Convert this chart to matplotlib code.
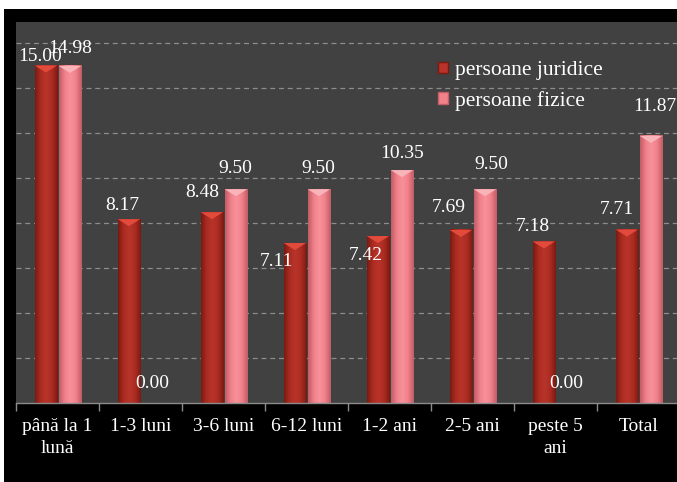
import matplotlib
matplotlib.use("Agg")
import matplotlib.pyplot as plt
import numpy as np
from matplotlib.patches import Rectangle, Polygon, Patch
from matplotlib.colors import LinearSegmentedColormap

categories = ["până la 1\nlună", "1-3 luni", "3-6 luni", "6-12 luni", "1-2 ani", "2-5 ani", "peste 5\nani", "Total"]
juridice = [15.00, 8.17, 8.48, 7.11, 7.42, 7.69, 7.18, 7.71]
fizice = [14.98, 0.00, 9.50, 9.50, 10.35, 9.50, 0.00, 11.87]
series_names = ["persoane juridice", "persoane fizice"]

# label offsets in pixels (dx, dy) relative to bar top centre
off_j = [(-6, 9.5), (-7, 14), (-10, 20), (-18, -18), (-12, -19), (-12, 22), (-11, 15), (-10, 20)]
off_f = [(0, 17), (-1, 20), (-1, 21), (-1, 21), (0, 17), (6, 25), (-2, 20), (4, 29)]

FONT = ["Liberation Serif", "DejaVu Serif"]
plt.rcParams["font.family"] = FONT

W, H, DPI = 677, 482, 100
fig = plt.figure(figsize=(W / DPI, H / DPI), dpi=DPI, facecolor="white")
fig.patches.append(Rectangle((4 / W, 0), 1, 1 - 9 / H, transform=fig.transFigure,
                             facecolor="black", edgecolor="none", zorder=-5))

left, right, top_px, base_px = 16, 677, 22, 403
ax = fig.add_axes([left / W, (H - base_px) / H, (right - left) / W, (base_px - top_px) / H])
ax.set_zorder(1)
ax.set_facecolor("#414141")
px_per_cat = 83.0
XLIM = (-0.5, -0.5 + (right - left) / px_per_cat)
px_per_unit = 22.5
YLIM = (0, (base_px - top_px) / px_per_unit)

ax.set_yticks(np.arange(2, 17, 2))
ax.yaxis.grid(True, color="#8c8c8c", linestyle=(0, (4, 3)), linewidth=0.9)
ax.set_axisbelow(True)
ax.tick_params(axis="y", left=False, labelleft=False)
for s in ["top", "right", "left"]:
    ax.spines[s].set_visible(False)
ax.spines["bottom"].set_color("#8c8c8c")
ax.spines["bottom"].set_linewidth(1.0)

x = np.arange(len(categories))
ax.set_xticks(np.arange(len(categories) + 1) - 0.5, minor=False)
ax.set_xticklabels([])
ax.tick_params(axis="x", which="major", direction="out", length=6, color="#8c8c8c", width=1)
ax.set_xticks(x, minor=True)
ax.set_xticklabels(categories, minor=True, color="white", fontsize=14, linespacing=1.35)
ax.tick_params(axis="x", which="minor", length=0, pad=11)

bw = 0.27
bars_j = ax.bar(x - 0.14, juridice, width=bw, color="#A82A20", zorder=2)
bars_f = ax.bar(x + 0.15, fizice, width=bw, color="#F2828A", zorder=2)

def shade(bars, c_edge, c_mid, c_hi, c_top):
    cmap = LinearSegmentedColormap.from_list("c", [c_edge, c_mid, c_hi, c_mid, c_edge])
    grad = np.linspace(0, 1, 64).reshape(1, -1)
    for b in bars:
        h = b.get_height()
        if h <= 0:
            continue
        x0, w = b.get_x(), b.get_width()
        ax.imshow(grad, cmap=cmap, aspect="auto", extent=(x0, x0 + w, 0, h),
                  zorder=2.5, interpolation="bilinear")
        tri_h = 7 / px_per_unit
        ax.add_patch(Polygon([(x0, h), (x0 + w, h), (x0 + w * 0.5, h - tri_h)],
                             closed=True, facecolor=c_top, edgecolor="none", zorder=3))

shade(bars_j, "#7A1A12", "#AC2C22", "#B8342A", "#E24A3C")
shade(bars_f, "#C25C66", "#F0808A", "#F8929A", "#F9B4BA")
ax.set_xlim(*XLIM)
ax.set_ylim(*YLIM)

pt = 72.0 / DPI
for b, v, (dx, dy) in zip(bars_j, juridice, off_j):
    ax.annotate(f"{v:.2f}", (b.get_x() + b.get_width() / 2, b.get_height()),
                xytext=(dx * pt, dy * pt), textcoords="offset points",
                ha="center", va="center", color="white", fontsize=14, zorder=5)
for b, v, (dx, dy) in zip(bars_f, fizice, off_f):
    ax.annotate(f"{v:.2f}", (b.get_x() + b.get_width() / 2, b.get_height()),
                xytext=(dx * pt, dy * pt), textcoords="offset points",
                ha="center", va="center", color="white", fontsize=14, zorder=5)

handles = [Patch(facecolor="#B8342A", edgecolor="#7A1A12"),
           Patch(facecolor="#F2828A", edgecolor="#C25C66")]
leg = ax.legend(handles, series_names, loc="upper left",
                bbox_to_anchor=(438 / W, 1 - 61 / H), bbox_transform=fig.transFigure,
                frameon=False, fontsize=15.5, handlelength=0.45, handleheight=0.45,
                handletextpad=0.35, borderpad=0, borderaxespad=0, labelspacing=0.5)
for t in leg.get_texts():
    t.set_color("white")

fig.savefig("out.png", dpi=DPI, facecolor=fig.get_facecolor())
